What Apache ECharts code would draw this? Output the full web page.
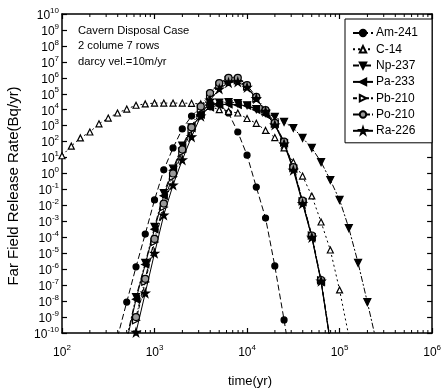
<!DOCTYPE html>
<html>
<head>
<meta charset="utf-8">
<script src="https://cdn.jsdelivr.net/npm/echarts@6/dist/echarts.min.js"></script>
<style>
  html, body { margin: 0; padding: 0; background: #fff; }
  #chart { width: 444px; height: 391px; }
</style>
</head>
<body>
<div id="chart"></div>
<script>
/* ── Data ────────────────────────────────────────────── */
const TIME = [
  100, 126, 158, 200, 251, 316, 398, 501, 631, 794,
  1000, 1259, 1585, 1995, 2512, 3162, 3981, 5012, 6310, 7943,
  10000, 12589, 15849, 19953, 25119, 31623, 39811, 50119, 63096, 79433,
  100000, 125893, 158489, 199526, 251189
];

const AM241 = [
  null, null, null, null, null, null, 5.5e-11, 8.7e-9, 1.4e-6, 1.6e-4,
  2.2e-2, 1.7, 40, 620, 4.0e3, 1.4e4, 2.8e4, 2.2e4, 6.2e3, 400,
  14, 0.14, 1.6e-3, 1.6e-6, 6.6e-10, 1.6e-13, null, null, null, null,
  null, null, null, null, null
];
const C14 = [
  13, 52, 170, 400, 1.3e3, 3.0e3, 6.2e3, 1.1e4, 1.9e4, 2.3e4,
  2.6e4, 2.6e4, 2.6e4, 2.6e4, 2.5e4, 2.3e4, 1.6e4, 1.0e4, 7.9e3, 6.2e3,
  2.8e3, 1.4e3, 500, 180, 40, 5.2, 0.69, 3.9e-2, 9.1e-4, 1.6e-5,
  5.0e-8, 6.3e-11, null, null, null
];
const NP237 = [
  null, null, null, null, null, null, null, 5.0e-11, 1.8e-8, 2.5e-6,
  4.5e-4, 6.0e-2, 2.0, 56, 790, 4.5e3, 1.6e4, 2.8e4, 3.0e4, 2.6e4,
  1.9e4, 1.1e4, 6.2e3, 3.5e3, 1.7e3, 710, 170, 40, 5.2, 0.39,
  2.2e-2, 3.8e-4, 2.5e-6, 8.7e-9, 2.5e-11
];
const PA233 = [
  null, null, null, null, null, null, null, 3.2e-11, 1.3e-8, 2.0e-6,
  3.2e-4, 4.0e-2, 1.6, 40, 710, 5.0e3, 1.4e4, 2.0e4, 2.2e4, 2.0e4,
  1.8e4, 1.0e4, 5.0e3, 1.3e3, 79, 2.0, 1.6e-2, 1.0e-4, 1.6e-7, 2.5e-11,
  null, null, null, null, null
];
const PB210 = [
  null, null, null, null, null, null, null, null, 6.3e-10, 1.6e-7,
  5.0e-5, 7.9e-3, 0.63, 22, 560, 1.1e4, 7.9e4, 3.2e5, 7.1e5, 7.1e5,
  2.8e5, 5.0e4, 7.9e3, 1.3e3, 89, 2.2, 1.8e-2, 1.3e-4, 2.0e-7, 3.2e-11,
  null, null, null, null, null
];
const PO210 = [
  null, null, null, null, null, null, null, null, 1.0e-9, 2.5e-7,
  7.9e-5, 1.3e-2, 1.0, 32, 790, 1.6e4, 1.1e5, 4.7e5, 1.0e6, 1.0e6,
  3.5e5, 6.3e4, 9.5e3, 1.5e3, 100, 2.5, 2.0e-2, 1.3e-4, 2.1e-7, 3.2e-11,
  null, null, null, null, null
];
const RA226 = [
  null, null, null, null, null, null, null, null, 1.1e-10, 3.2e-8,
  1.0e-5, 2.5e-3, 0.19, 7.1, 200, 4.0e3, 4.0e4, 2.0e5, 5.0e5, 5.6e5,
  2.5e5, 5.0e4, 7.9e3, 1.1e3, 71, 1.6, 1.3e-2, 1.0e-4, 1.8e-7, 2.5e-11,
  null, null, null, null, null
];

const X_MINOR = [
  200, 300, 400, 500, 600, 700, 800, 900,
  2000, 3000, 4000, 5000, 6000, 7000, 8000, 9000,
  20000, 30000, 40000, 50000, 60000, 70000, 80000, 90000,
  200000, 300000, 400000, 500000, 600000, 700000, 800000, 900000
];

const NOTES = ["Cavern Disposal Case", "2 colume 7 rows", "darcy vel.=10m/yr"];

/* ── Styles ──────────────────────────────────────────── */
const FONT = "'Liberation Sans', Arial, sans-serif";
const STAR = "path://M5,0 L6.2,3.6 L10,3.6 L6.9,5.9 L8.1,9.5 L5,7.3 L1.9,9.5 L3.1,5.9 L0,3.6 L3.8,3.6 Z";
const TRI_DOWN = "path://M0,0 L10,0 L5,10 Z";
const TRI_LEFT = "path://M10,0 L10,10 L0,5 Z";
const TRI_RIGHT = "path://M0,0 L10,5 L0,10 Z";

const SERIES_DEF = [
  { name: "Am-241", data: AM241, symbol: "circle", size: 6, fill: "#000", dash: [6, 3] },
  { name: "C-14", data: C14, symbol: "triangle", size: 6, fill: "#fff", dash: [2, 3] },
  { name: "Np-237", data: NP237, symbol: TRI_DOWN, size: 7, fill: "#000", dash: [6, 2, 2, 2] },
  { name: "Pa-233", data: PA233, symbol: TRI_LEFT, size: 7, fill: "#000", dash: "solid" },
  { name: "Pb-210", data: PB210, symbol: TRI_RIGHT, size: 7, fill: "#fff", dash: [4, 2] },
  { name: "Po-210", data: PO210, symbol: "circle", size: 7, fill: "#999", dash: [6, 2, 1, 2] },
  { name: "Ra-226", data: RA226, symbol: STAR, size: 8, fill: "#000", dash: "solid" },
];

const sup = (v) => "{b|10}{s|" + Math.round(Math.log10(v)) + "}";
const supRich = {
  b: { fontSize: 12, fontFamily: FONT, color: "#000", verticalAlign: "bottom", lineHeight: 15 },
  s: { fontSize: 8, fontFamily: FONT, color: "#000", verticalAlign: "top", lineHeight: 15 },
};

const chart = echarts.init(document.getElementById("chart"), null, { renderer: "canvas" });

const lineSeries = SERIES_DEF.map((s) => ({
  name: s.name,
  type: "line",
  data: TIME.map((t, i) => [t, s.data[i]]).filter((d) => d[1] != null),
  symbol: s.symbol,
  symbolSize: s.size,
  clip: true,
  lineStyle: { color: "#000", width: 1, type: s.dash },
  itemStyle: { color: s.fill, borderColor: "#000", borderWidth: 1.2 },
  emphasis: { disabled: true },
  z: 3,
}));

// log minor ticks along the bottom and top frame
const minorTicks = {
  type: "custom",
  silent: true,
  clip: false,
  data: X_MINOR.map((v) => [v, 1e-10]),
  renderItem: (params, api) => {
    const x = api.coord([api.value(0), 1e-10])[0];
    const cs = params.coordSys;
    return {
      type: "group",
      children: [
        { type: "line", shape: { x1: x, y1: cs.y + cs.height, x2: x, y2: cs.y + cs.height - 3 }, style: { stroke: "#000", lineWidth: 1 } },
        { type: "line", shape: { x1: x, y1: cs.y, x2: x, y2: cs.y + 3 }, style: { stroke: "#000", lineWidth: 1 } },
      ],
    };
  },
  z: 5,
};

const axisBase = {
  type: "log",
  logBase: 10,
  interval: 1,
  axisLine: { show: true, lineStyle: { color: "#000", width: 1.5 } },
  axisTick: { show: true, inside: true, length: 5, lineStyle: { color: "#000", width: 1.2 } },
  splitLine: { show: false },
  minorTick: { show: false },
};

chart.setOption({
  animation: false,
  backgroundColor: "#fff",
  textStyle: { fontFamily: FONT },
  grid: { left: 62, top: 14, right: 9, bottom: 58, containLabel: false },
  xAxis: [
    {
      ...axisBase, position: "bottom", min: 100, max: 1e6,
      axisLabel: { show: true, margin: 11, formatter: sup, rich: supRich },
    },
    {
      ...axisBase, position: "top", min: 100, max: 1e6,
      axisLabel: { show: false },
    },
  ],
  yAxis: [
    {
      ...axisBase, position: "left", min: 1e-10, max: 1e10,
      axisLabel: { show: true, margin: 3, formatter: sup, rich: supRich },
    },
    {
      ...axisBase, position: "right", min: 1e-10, max: 1e10,
      axisLabel: { show: false },
    },
  ],
  legend: {
    orient: "vertical",
    left: 345,
    top: 19,
    padding: [8, 14, 6, 7],
    itemWidth: 20,
    itemHeight: 8,
    itemGap: 4.3,
    backgroundColor: "#fff",
    borderColor: "#000",
    borderWidth: 1,
    textStyle: { color: "#000", fontSize: 12, fontFamily: FONT, lineHeight: 12, padding: [0, 0, 0, -2] },
    data: SERIES_DEF.map((s) => s.name),
  },
  graphic: [
    ...NOTES.map((t, i) => ({
      type: "text",
      left: 78,
      top: 25 + i * 15.5,
      style: { text: t, fontSize: 11.2, fontFamily: FONT, fill: "#000" },
    })),
    {
      type: "text",
      x: 14,
      y: 186,
      rotation: Math.PI / 2,
      style: {
        text: "Far Field Release Rate(Bq/yr)",
        fontSize: 15, fontFamily: FONT, fill: "#000",
        align: "center", verticalAlign: "middle",
      },
    },
    {
      type: "text",
      x: 250,
      y: 381,
      style: {
        text: "time(yr)",
        fontSize: 13, fontFamily: FONT, fill: "#000",
        align: "center", verticalAlign: "middle",
      },
    },
  ],
  series: [...lineSeries, minorTicks],
});
</script>
</body>
</html>
